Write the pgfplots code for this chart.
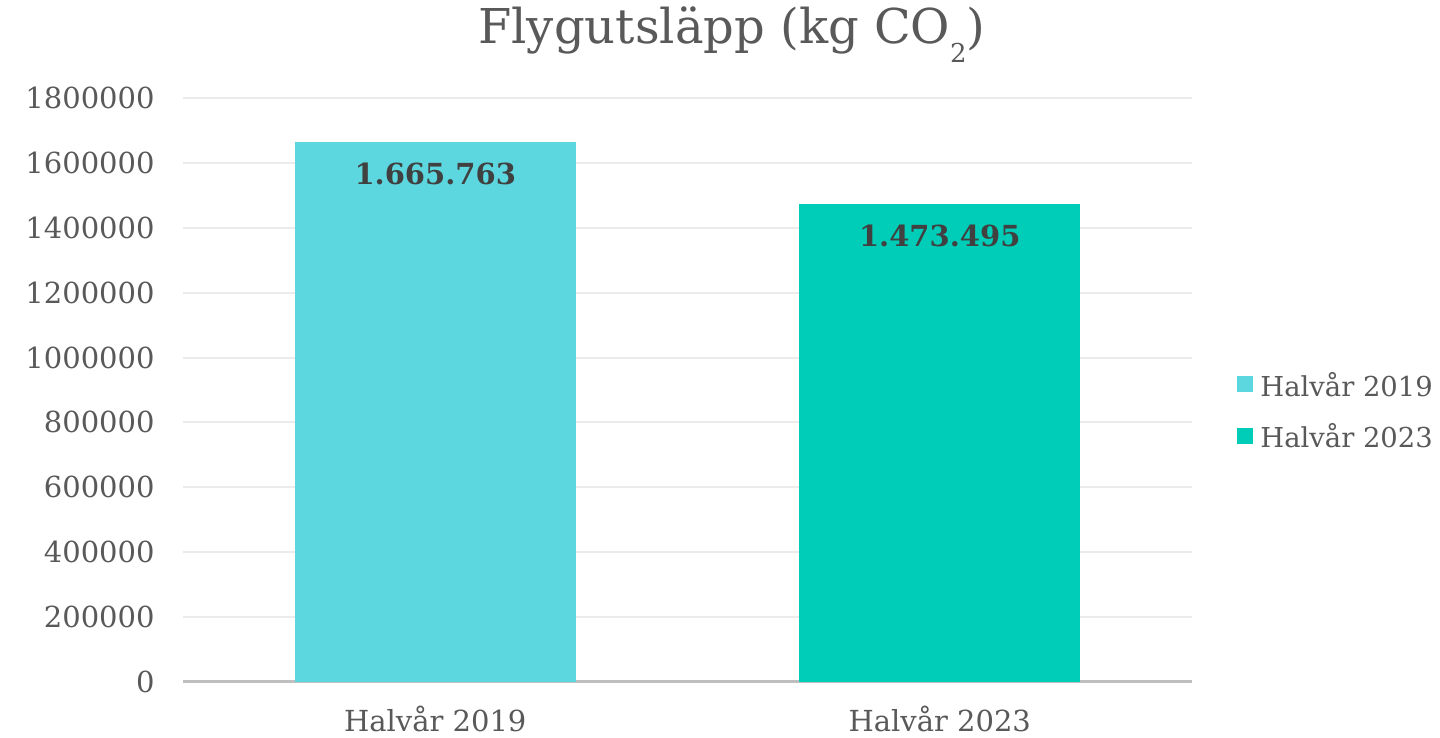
\documentclass[border=0pt]{standalone}
\usepackage{pgfplots}
\pgfplotsset{compat=1.18}
\usepackage{fontspec}
\setmainfont{DejaVu Serif}
\definecolor{barA}{RGB}{92,214,223}
\definecolor{barB}{RGB}{0,205,184}
\definecolor{txt}{RGB}{89,89,89}
\definecolor{lbl}{RGB}{64,64,64}
\definecolor{gridc}{RGB}{235,235,235}
\definecolor{axc}{RGB}{191,191,191}
\begin{document}
\begin{tikzpicture}
\useasboundingbox (-91.5pt,-28pt) rectangle (628.5pt,341pt);
\begin{axis}[
  at={(0pt,0pt)}, anchor=south west,
  scale only axis, width=504.5pt, height=292pt,
  xmin=-0.5, xmax=1.5, ymin=0, ymax=1800000,
  enlarge x limits=false, enlarge y limits=false,
  xtick={0,1}, xticklabels={Halvår 2019, Halvår 2023},
  ytick={0,200000,...,1800000},
  scaled y ticks=false,
  /pgf/number format/.cd, fixed, 1000 sep={}, assume math mode=true, /pgfplots/.cd,
  major tick length=0pt,
  axis x line*=bottom, axis y line*=left,
  x axis line style={draw=axc, line width=1.5pt},
  y axis line style={draw=none},
  ymajorgrids, grid style={draw=gridc, line width=1pt},
  ticklabel style={font=\fontsize{14.5}{17}\selectfont, text=txt},
  yticklabel style={anchor=east, inner sep=0pt, xshift=-14pt},
  xticklabel style={anchor=base, inner sep=0pt, yshift=-25pt},
  title={Flygutsläpp (kg CO\raisebox{-9.5pt}{\fontsize{13}{13}\selectfont 2})},
  title style={at={(axis description cs:0.544,1.073)}, anchor=base, inner sep=0pt,
    font=\fontsize{24}{28}\selectfont, text=txt},
  ybar, bar width=140.5pt, bar shift=0pt,
  nodes near coords, point meta=explicit symbolic,
  nodes near coords style={anchor=base, yshift=-21.5pt, inner sep=0pt,
    font=\fontsize{14.5}{17}\selectfont\bfseries, text=lbl},
  legend style={at={(axis description cs:1.0387,0.464)}, anchor=west,
    draw=none, fill=none, font=\fontsize{13.7}{16}\selectfont, text=txt,
    row sep=8pt, cells={anchor=west}},
  legend image code/.code={\fill[#1] (0pt,-3.5pt) rectangle (8pt,4.5pt); \path (9.5pt,0pt);},
]
\addplot[draw=none, fill=barA] coordinates {(0,1665763) [1.665.763]};
\addlegendentry{Halvår 2019}
\addplot[draw=none, fill=barB] coordinates {(1,1473495) [1.473.495]};
\addlegendentry{Halvår 2023}
\end{axis}
\end{tikzpicture}
\end{document}
